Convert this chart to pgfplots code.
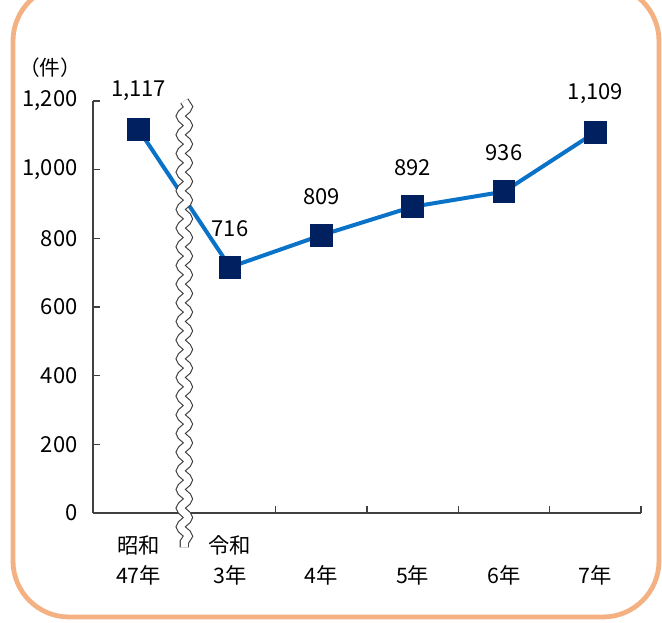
\documentclass[border=0pt]{standalone}
\usepackage{fontspec}
\setmainfont{Noto Sans CJK JP}
\usepackage{pgfplots}
\pgfplotsset{compat=1.18}
\usetikzlibrary{decorations.pathmorphing}
\definecolor{lineblue}{RGB}{10,115,200}
\definecolor{marknavy}{RGB}{0,32,96}
\definecolor{frameorange}{RGB}{244,177,131}
\definecolor{axisgray}{RGB}{64,64,64}

\begin{document}
\begin{tikzpicture}
\useasboundingbox (0pt,0pt) rectangle (496.5pt,467.25pt);
% orange rounded frame, cut off at the top
\begin{scope}
  \clip (0pt,0pt) rectangle (496.5pt,467.25pt);
  \draw[frameorange, line width=3.6pt, rounded corners=42pt] (9.75pt,4.5pt) rectangle (494.25pt,478.5pt);
\end{scope}
\node[font=\fontsize{15.5}{18}\selectfont] at (37.5pt,416.25pt) {（件）};
\begin{axis}[
    at={(69.75pt,82.5pt)}, anchor=south west,
    scale only axis,
    width=411pt, height=309pt,
    xmin=-0.5, xmax=5.5,
    ymin=0, ymax=1200,
    clip=false,
    axis lines*=left,
    axis line style={axisgray, line width=1.1pt, -},
    tick align=inside,
    tick style={axisgray, line width=1pt},
    major tick length=5.25pt,
    minor tick length=5.25pt,
    ytick={0,200,...,1200},
    xtick={0,...,5},
    xticklabels={{\strut 昭和\\\strut 47年},{\strut 令和\\\strut 3年},{\strut\\\strut 4年},{\strut\\\strut 5年},{\strut\\\strut 6年},{\strut\\\strut 7年}},
    major x tick style={draw=none},
    minor xtick={1.5,2.5,3.5,4.5,5.5},
    x tick label style={font=\fontsize{16}{22.5}\selectfont, align=center, anchor=north, yshift=-11pt},
    y tick label style={font=\fontsize{16.5}{19}\selectfont, anchor=east, xshift=-8pt},
    /pgf/number format/assume math mode=true,
    /pgf/number format/1000 sep={,},
    nodes near coords,
    every node near coord/.append style={font=\fontsize{16.5}{19}\selectfont, anchor=center, yshift=29pt, black},
]
% 件数の推移
\addplot[lineblue, line width=3pt, mark=square*, mark size=8.2pt,
         mark options={fill=marknavy, draw=marknavy, line width=0pt}]
coordinates {
    (0,1117) (1,716) (2,809) (3,892) (4,936) (5,1109)
};
% break mark between 昭和47年 and 令和3年
\draw[axisgray, line width=7pt, decorate,
      decoration={snake, amplitude=2.8pt, segment length=14pt}]
      (axis cs:0.5,1200) -- (axis cs:0.5,-100);
\draw[white, line width=5.3pt, decorate,
      decoration={snake, amplitude=2.8pt, segment length=14pt}]
      (axis cs:0.5,1200) -- (axis cs:0.5,-100);
\end{axis}
\end{tikzpicture}
\end{document}
